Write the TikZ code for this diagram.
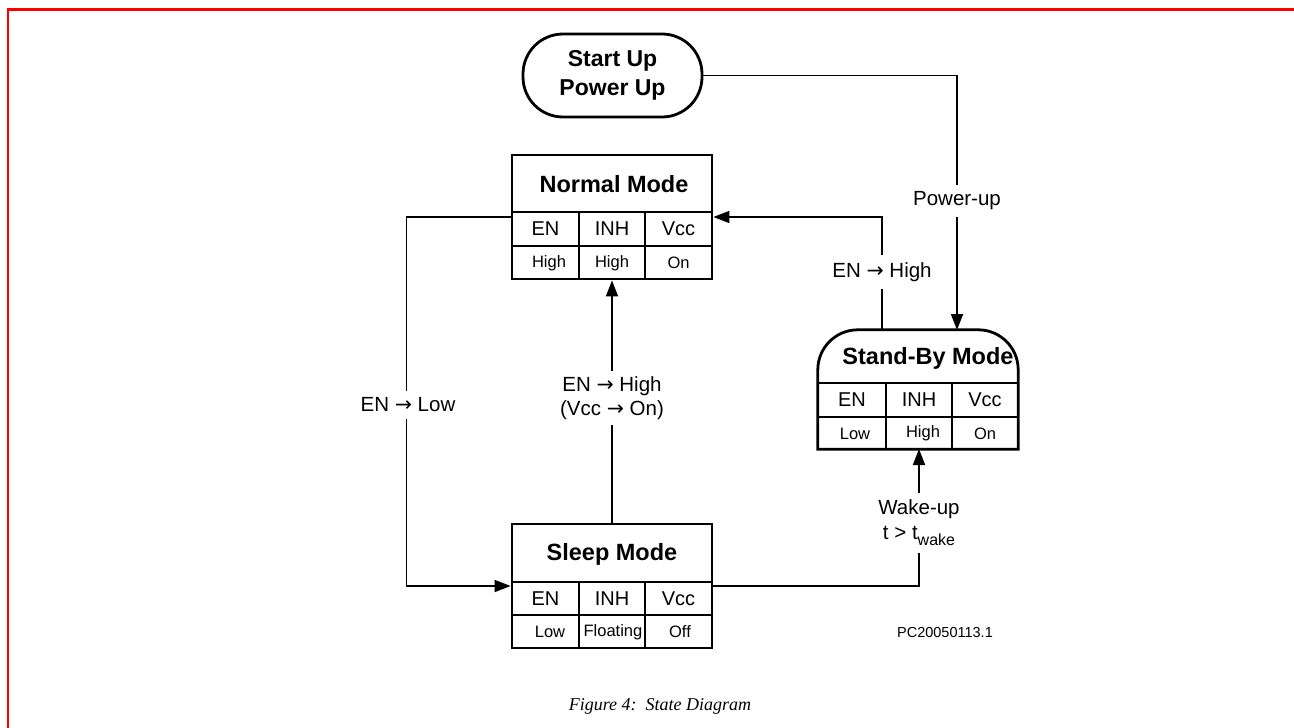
\documentclass[tikz,border=0pt]{standalone}
\usepackage{fontspec}
\setmainfont{Liberation Sans}
\newfontfamily\capfont{Liberation Serif}
\newfontfamily\arfont{DejaVu Sans}
\newcommand\rar{{\arfont →}}
\usetikzlibrary{arrows.meta}
\tikzset{
  outerline/.style={line width=2.8pt},
  box/.style={draw, line width=2.8pt, minimum width=200pt, minimum height=124pt, inner sep=0pt},
  sbbox/.style={minimum width=200pt, minimum height=119pt, inner sep=0pt},
  startbox/.style={draw, line width=2.8pt, rounded corners=40pt, minimum width=179pt, minimum height=83pt, inner sep=0pt, align=center, font=\fontsize{23}{28.5}\selectfont\bfseries},
  title/.style={font=\fontsize{23.5}{26}\selectfont\bfseries, inner sep=0pt},
  hdr/.style={font=\fontsize{20}{22}\selectfont, inner sep=0pt},
  val/.style={font=\fontsize{16.5}{18}\selectfont, inner sep=0pt},
  gridline/.style={line width=1.2pt},
  conn/.style={line width=1.7pt},
  arr/.style={conn, -{Triangle[length=16pt,width=12pt]}},
  lab/.style={fill=white, font=\fontsize{20.5}{23}\selectfont, inner sep=5pt, align=center},
}
\begin{document}
\begin{tikzpicture}[x=1pt, y=-1pt]
\useasboundingbox (0,0) rectangle (1294,728);
% red frame
\draw[red, line width=2.4pt] (8,728) -- (8,9.5) -- (1294,9.5);

% Start node
\node[startbox] (start) at (612.5,75.5) {Start Up\\Power Up};

% Normal Mode
\node[box] (normal) at (612,217) {};
\node[title] (normalT) at (614,184) {Normal Mode};
\draw[gridline] (512,212) -- (712,212) (512,246) -- (712,246) (579,212) -- (579,279) (645,212) -- (645,279);
\node[hdr] (n1) at (545.5,229) {EN};
\node[hdr] (n2) at (612,229) {INH};
\node[hdr] (n3) at (678.5,229) {Vcc};
\node[val] (n4) at (549,263) {High};
\node[val] (n5) at (612,263) {High};
\node[val] (n6) at (678.5,263) {On};

% Sleep Mode
\node[box] (sleep) at (612,586) {};
\node[title] (sleepT) at (612,554) {Sleep Mode};
\draw[gridline] (512,582) -- (712,582) (512,615) -- (712,615) (579,582) -- (579,648) (645,582) -- (645,648);
\node[hdr] (s1) at (545.5,598.5) {EN};
\node[hdr] (s2) at (612,598.5) {INH};
\node[hdr] (s3) at (678.5,598.5) {Vcc};
\node[val] (s4) at (550,632) {Low};
\node[val] (s5) at (613,632) {Floating};
\node[val] (s6) at (680,632) {Off};

% Stand-By Mode
\node[sbbox] (standby) at (918,389.5) {};
\draw[outerline] (standby.south west) -- ([yshift=-40pt]standby.north west)
  arc[start angle=180, end angle=90, radius=40pt]
  -- ([xshift=-40pt]standby.north east)
  arc[start angle=90, end angle=0, radius=40pt]
  -- (standby.south east) -- cycle;
\node[title] (standbyT) at (928,358) {Stand-By Mode};
\draw[gridline] (818,383) -- (1018,383) (818,417) -- (1018,417) (886,383) -- (886,449) (952,383) -- (952,449);
\node[hdr] (b1) at (852,400) {EN};
\node[hdr] (b2) at (919,400) {INH};
\node[hdr] (b3) at (985,400) {Vcc};
\node[val] (b4) at (855,433.5) {Low};
\node[val] (b5) at (923,433.5) {High};
\node[val] (b6) at (985,433.5) {On};

% connectors
\coordinate (sbin) at (957,330);
\coordinate (sbout) at (882,330);
\coordinate (sbwake) at (919,449);
\draw[arr] (start.east) -| (sbin);
\draw[arr] (sbout) |- (normal.east);
\draw[arr] (normal.west) -- ++(-104,0) |- (sleep.west);
\draw[arr] (sleep.north) -- (normal.south);
\draw[arr] (sleep.east) -| (sbwake);

% labels
\node[lab, inner sep=7pt] (lpow) at (957,201) {Power-up};
\node[lab, inner sep=7pt] (lenh) at (882,272) {EN \rar\ High};
\node[lab, inner sep=7pt] (lenl) at (408,405) {EN \rar\ Low};
\node[lab, font=\fontsize{20.5}{24}\selectfont] (lslp) at (612,398) {EN \rar\ High\\(Vcc \rar\ On)};
\node[lab, font=\fontsize{20.5}{25}\selectfont, inner sep=7pt] (lwake) at (919,523) {Wake-up\\t > t\raisebox{-6pt}{\fontsize{16}{16}\selectfont wake}};

\node[font=\fontsize{14.5}{16}\selectfont, inner sep=0pt] (pc) at (945,633) {PC20050113.1};

% caption
\node[font=\capfont\itshape\fontsize{18}{20}\selectfont, inner sep=0pt] (cap) at (660,706) {Figure 4:\ \ State Diagram};
\end{tikzpicture}
\end{document}
